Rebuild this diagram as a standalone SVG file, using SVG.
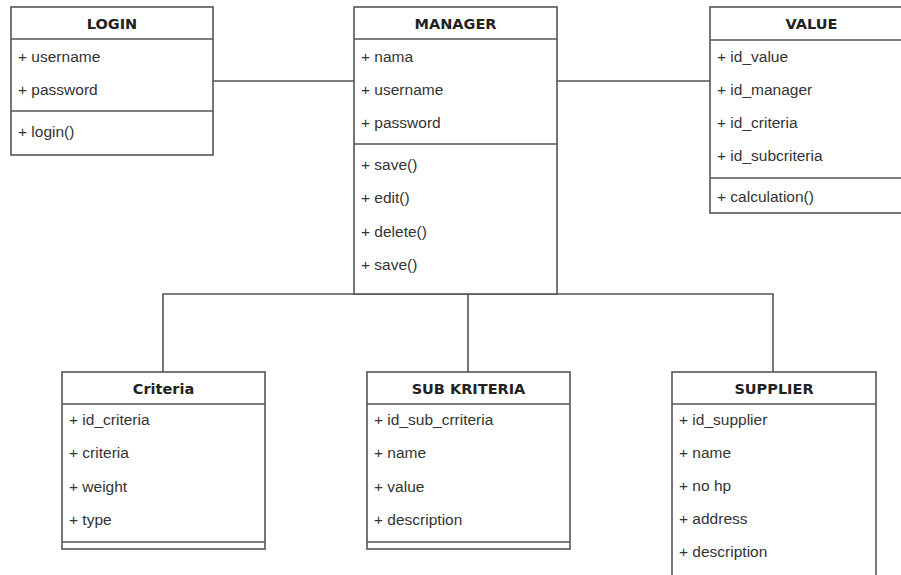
<svg xmlns="http://www.w3.org/2000/svg" width="901" height="575" viewBox="0 0 901 575">
<style>
.box{fill:#fff;stroke:#555;stroke-width:1.6}
.sep{stroke:#555;stroke-width:1.6}
.title{font-family:"DejaVu Sans",sans-serif;font-weight:bold;font-size:14.5px;fill:#222;text-anchor:middle}
.item{font-family:"Liberation Sans",Arial,sans-serif;font-size:15.5px;fill:#333}
.conn{fill:none;stroke:#555;stroke-width:1.6}
</style>
<rect width="901" height="575" fill="#fff"/>
<g id="connectors">
<line class="conn" x1="213" y1="81" x2="354" y2="81"/>
<line class="conn" x1="557" y1="81" x2="710" y2="81"/>
<path class="conn" d="M163,372 V294 H773 V372 M468,294 V372"/>
</g>
<g id="login">
<rect class="box" x="11" y="7" width="202" height="148"/>
<line class="sep" x1="11" y1="39" x2="213" y2="39"/>
<line class="sep" x1="11" y1="111" x2="213" y2="111"/>
<text class="title" x="112" y="29">LOGIN</text>
<text class="item" x="18" y="62">+ username</text>
<text class="item" x="18" y="95">+ password</text>
<text class="item" x="18" y="137">+ login()</text>
</g>
<g id="manager">
<rect class="box" x="354" y="7" width="203" height="287"/>
<line class="sep" x1="354" y1="39" x2="557" y2="39"/>
<line class="sep" x1="354" y1="144" x2="557" y2="144"/>
<text class="title" x="455.5" y="29">MANAGER</text>
<text class="item" x="361" y="62">+ nama</text>
<text class="item" x="361" y="95">+ username</text>
<text class="item" x="361" y="128">+ password</text>
<text class="item" x="361" y="170">+ save()</text>
<text class="item" x="361" y="203">+ edit()</text>
<text class="item" x="361" y="237">+ delete()</text>
<text class="item" x="361" y="270">+ save()</text>
</g>
<g id="value">
<rect class="box" x="710" y="7" width="203" height="206"/>
<line class="sep" x1="710" y1="40" x2="913" y2="40"/>
<line class="sep" x1="710" y1="178" x2="913" y2="178"/>
<text class="title" x="811.5" y="29">VALUE</text>
<text class="item" x="717" y="62">+ id_value</text>
<text class="item" x="717" y="95">+ id_manager</text>
<text class="item" x="717" y="128">+ id_criteria</text>
<text class="item" x="717" y="161">+ id_subcriteria</text>
<text class="item" x="717" y="202">+ calculation()</text>
</g>
<g id="criteria">
<rect class="box" x="62" y="372" width="203" height="177"/>
<line class="sep" x1="62" y1="404" x2="265" y2="404"/>
<line class="sep" x1="62" y1="542" x2="265" y2="542"/>
<text class="title" x="163.5" y="394">Criteria</text>
<text class="item" x="69" y="425">+ id_criteria</text>
<text class="item" x="69" y="458">+ criteria</text>
<text class="item" x="69" y="492">+ weight</text>
<text class="item" x="69" y="525">+ type</text>
</g>
<g id="subkriteria">
<rect class="box" x="367" y="372" width="203" height="177"/>
<line class="sep" x1="367" y1="404" x2="570" y2="404"/>
<line class="sep" x1="367" y1="542" x2="570" y2="542"/>
<text class="title" x="468.5" y="394">SUB KRITERIA</text>
<text class="item" x="374" y="425">+ id_sub_crriteria</text>
<text class="item" x="374" y="458">+ name</text>
<text class="item" x="374" y="492">+ value</text>
<text class="item" x="374" y="525">+ description</text>
</g>
<g id="supplier">
<rect class="box" x="672" y="372" width="204" height="215"/>
<line class="sep" x1="672" y1="404" x2="876" y2="404"/>
<text class="title" x="774" y="394">SUPPLIER</text>
<text class="item" x="679" y="425">+ id_supplier</text>
<text class="item" x="679" y="458">+ name</text>
<text class="item" x="679" y="491">+ no hp</text>
<text class="item" x="679" y="524">+ address</text>
<text class="item" x="679" y="557">+ description</text>
</g>
</svg>
